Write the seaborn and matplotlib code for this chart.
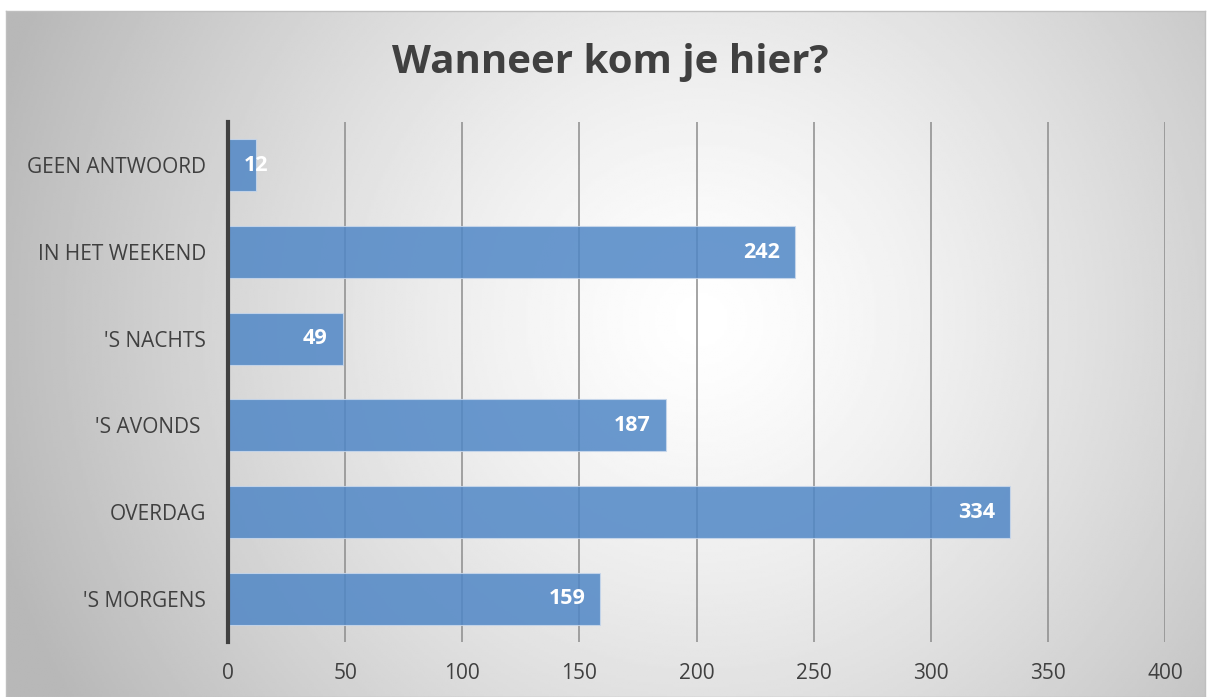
import numpy as np
import pandas as pd
import seaborn as sns
import matplotlib.pyplot as plt

sns.set_theme(style="white")
plt.rcParams['font.family'] = ['Open Sans', 'DejaVu Sans']

categories = ['GEEN ANTWOORD', 'IN HET WEEKEND', "'S NACHTS", "'S AVONDS ", 'OVERDAG', "'S MORGENS"]
values = [12, 242, 49, 187, 334, 159]
xticks = [0, 50, 100, 150, 200, 250, 300, 350, 400]

df = pd.DataFrame({'tijd': categories, 'aantal': values})

textcol = '#404040'
fig = plt.figure(figsize=(12.09, 6.97), dpi=100)

# radial gradient background of the chart area
bg = fig.add_axes([6 / 1209, 0, 1199 / 1209, 686 / 697], zorder=-10)
yy, xx = np.mgrid[0:1:300j, 0:1:520j]
r = np.sqrt(((xx - 0.58) * 1.75) ** 2 + (yy - 0.45) ** 2)
shade = np.clip(1 - 0.27 * (r / 1.05) ** 1.3, 0.72, 1)
bg.imshow(shade, cmap='gray', vmin=0, vmax=1, aspect='auto', extent=[0, 1, 0, 1], origin='upper')
bg.set_xticks([])
bg.set_yticks([])
for s in bg.spines.values():
    s.set_color('#bfbfbf')
    s.set_linewidth(1)

ax = fig.add_axes([228 / 1209, 55 / 697, 937 / 1209, 520 / 697])
ax.patch.set_alpha(0)
ax.set_axisbelow(True)
ax.grid(axis='x', color='#8c8c8c', linewidth=1.1)
ax.grid(axis='y', visible=False)

sns.barplot(data=df, x='aantal', y='tijd', color='#5087c6', saturation=1, alpha=0.85, width=0.6,
            edgecolor='#c9d8ec', linewidth=0.8, ax=ax, zorder=3)

ax.set_xlim(0, 400)
ax.set_xticks(xticks)
ax.set_ylim(5.5, -0.5)
ax.set_xlabel('')
ax.set_ylabel('')
ax.tick_params(axis='both', length=0, labelsize=15, colors=textcol)
ax.tick_params(axis='y', pad=16)
ax.tick_params(axis='x', pad=15)
for name in ['top', 'right', 'bottom']:
    ax.spines[name].set_visible(False)
ax.spines['left'].set_color('#404040')
ax.spines['left'].set_linewidth(3)
ax.spines['left'].set_zorder(5)

for p in ax.patches:
    w = p.get_width()
    yc = p.get_y() + p.get_height() / 2
    if w < 30:
        ax.annotate(f'{w:.0f}', (w, yc), xytext=(0, 0), textcoords='offset points',
                    ha='center', va='center', color='white', fontsize=15.5, fontweight='bold', zorder=6)
    else:
        ax.annotate(f'{w:.0f}', (w, yc), xytext=(-11, 0), textcoords='offset points',
                    ha='right', va='center', color='white', fontsize=15.5, fontweight='bold', zorder=6)

fig.text(610 / 1209, 1 - 63 / 697, 'Wanneer kom je hier?', ha='center', va='center',
         fontsize=29, fontweight='bold', color=textcol)

fig.savefig('out.png', dpi=100)
